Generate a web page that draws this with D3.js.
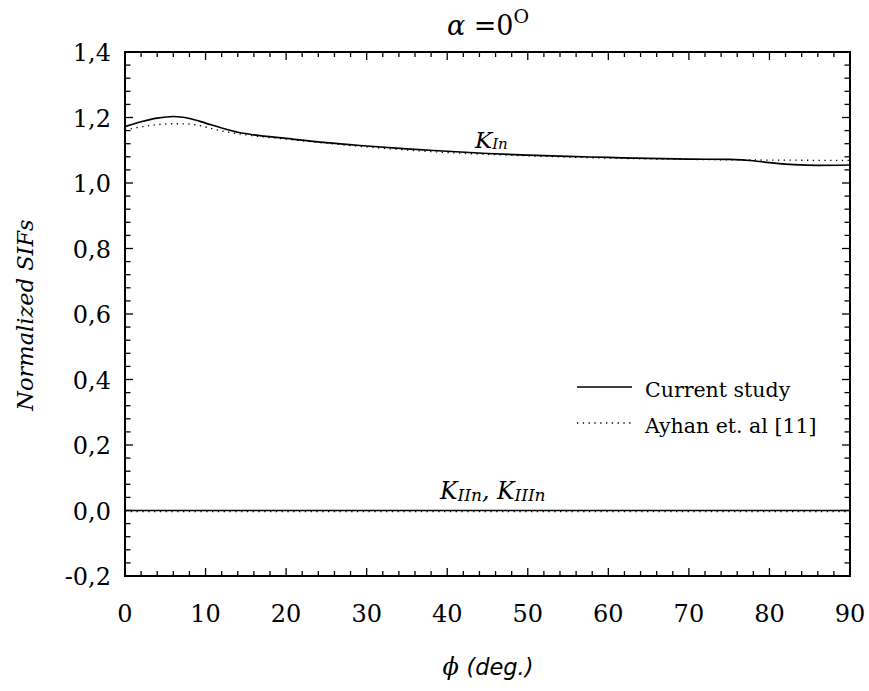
<!DOCTYPE html>
<html><head><meta charset="utf-8">
<script src="https://cdn.jsdelivr.net/npm/d3@7"></script>
<style>body{margin:0;background:#fff}svg{display:block}</style>
</head><body>
<svg id="c" width="869" height="691"></svg>
<script>
// ---- data ----
const xTicks = [0,10,20,30,40,50,60,70,80,90];
const yTicks = [-0.2,0,0.2,0.4,0.6,0.8,1.0,1.2,1.4];
const phiCurrent = [0,2,4,6,8,10,12,14,16,20,25,30,35,40,45,50,55,60,65,70,75,78,80,83,86,90];
const kInCurrent = [1.172,1.187,1.198,1.203,1.197,1.183,1.168,1.155,1.147,1.136,1.123,1.113,1.104,1.097,1.090,1.085,1.081,1.078,1.075,1.073,1.072,1.068,1.062,1.056,1.054,1.055];
const phiAyhan = [0,3,6,8,10,12,15,20,30,40,50,60,70,80,90];
const kInAyhan = [1.162,1.175,1.181,1.180,1.171,1.159,1.147,1.134,1.110,1.093,1.083,1.076,1.072,1.070,1.069];
const phiZero = [0,90];
const kIICurrent = [0,0];
const kIIAyhan = [-0.003,-0.003];
const legendLabels = ["Current study","Ayhan et. al [11]"];

const svg = d3.select("#c");
const L=125,R=850,T=52,B=576;
const x = d3.scaleLinear().domain([0,90]).range([L,R]);
const y = d3.scaleLinear().domain([-0.2,1.4]).range([B,T]);
const fmt = d => d3.format(".1f")(d).replace(".",",").replace("−","-");

// frame
svg.append("rect").attr("x",L).attr("y",T).attr("width",R-L).attr("height",B-T)
  .attr("fill","none").attr("stroke","#000").attr("stroke-width",2);

// ticks (inward, all sides)
const xMinor = d3.range(0,91,2);
const yMinor = d3.range(-0.2,1.401,0.04);
const tg = svg.append("g").attr("stroke","#000").attr("stroke-width",1.3);
xMinor.forEach(v=>{
  const major = Math.abs(v%10)<1e-6, len = major?8:5;
  tg.append("line").attr("x1",x(v)).attr("x2",x(v)).attr("y1",B).attr("y2",B-len);
  tg.append("line").attr("x1",x(v)).attr("x2",x(v)).attr("y1",T).attr("y2",T+len);
});
yMinor.forEach(v=>{
  const major = Math.abs(Math.round(v*5)-v*5)<1e-6, len = major?8:5.5;
  tg.append("line").attr("y1",y(v)).attr("y2",y(v)).attr("x1",L).attr("x2",L+len);
  tg.append("line").attr("y1",y(v)).attr("y2",y(v)).attr("x1",R).attr("x2",R-len);
});

// tick labels
const font = "'DejaVu Serif', serif";
svg.append("g").selectAll("text").data(xTicks).join("text")
  .attr("x",d=>x(d)).attr("y",622).attr("text-anchor","middle")
  .attr("font-family",font).attr("font-size",24).text(d=>d);
svg.append("g").selectAll("text").data(yTicks).join("text")
  .attr("x",L-14).attr("y",d=>y(d)+9).attr("text-anchor","end")
  .attr("font-family",font).attr("font-size",24).text(d=>fmt(d));

// lines
const line = d3.line().x(d=>x(d[0])).y(d=>y(d[1])).curve(d3.curveMonotoneX);
const zip = (a,b)=>a.map((v,i)=>[v,b[i]]);
const solid = {fill:"none",stroke:"#000","stroke-width":1.7};
const dotted = {fill:"none",stroke:"#000","stroke-width":1.3,"stroke-dasharray":"1.3,4.5"};
function draw(data,style){const p=svg.append("path").attr("d",line(data));Object.entries(style).forEach(([k,v])=>p.attr(k,v));}
draw(zip(phiAyhan,kInAyhan),dotted);
draw(zip(phiCurrent,kInCurrent),solid);
draw(zip(phiZero,kIIAyhan),dotted);
draw(zip(phiZero,kIICurrent),solid);

// curve labels
const k1 = svg.append("text").attr("x",475).attr("y",148).attr("font-family",font).attr("font-style","italic").attr("font-size",23);
k1.append("tspan").text("K");
k1.append("tspan").attr("font-size",15).attr("dy",1).text("In");
const k2 = svg.append("text").attr("x",440).attr("y",499).attr("font-family",font).attr("font-style","italic").attr("font-size",23.5);
k2.append("tspan").text("K");
k2.append("tspan").attr("font-size",17).attr("dy",2).text("IIn");
k2.append("tspan").attr("dy",-2).text(", K");
k2.append("tspan").attr("font-size",17).attr("dy",2).text("IIIn");

// legend
const lg = svg.append("g");
[[solid,387],[dotted,423]].forEach(([st,yy],i)=>{
  const l = lg.append("line").attr("x1",577).attr("x2",632).attr("y1",yy).attr("y2",yy);
  Object.entries(st).forEach(([k,v])=>{ if(k!=="fill") l.attr(k,v); });
  lg.append("text").attr("x",645).attr("y",yy+10).attr("font-family",font).attr("font-size",20.5).text(legendLabels[i]);
});

// title
const t = svg.append("text").attr("x",488).attr("y",35).attr("text-anchor","middle").attr("font-family",font).attr("font-size",27);
t.append("tspan").attr("font-style","italic").text("α");
t.append("tspan").text(" =0");
t.append("tspan").attr("font-size",19).attr("dy",-12).text("O");

// axis titles
const xl = svg.append("text").attr("x",488).attr("y",675).attr("text-anchor","middle").attr("font-size",24).attr("font-style","italic");
xl.append("tspan").attr("font-family",font).text("ϕ ");
xl.append("tspan").attr("font-family","'DejaVu Sans', Verdana, sans-serif").attr("font-size",22.5).text("(deg.)");
svg.append("text").attr("transform","translate(33,315) rotate(-90)").attr("text-anchor","middle")
  .attr("font-family",font).attr("font-style","italic").attr("font-size",22.5).text("Normalized SIFs");
</script>
</body></html>
